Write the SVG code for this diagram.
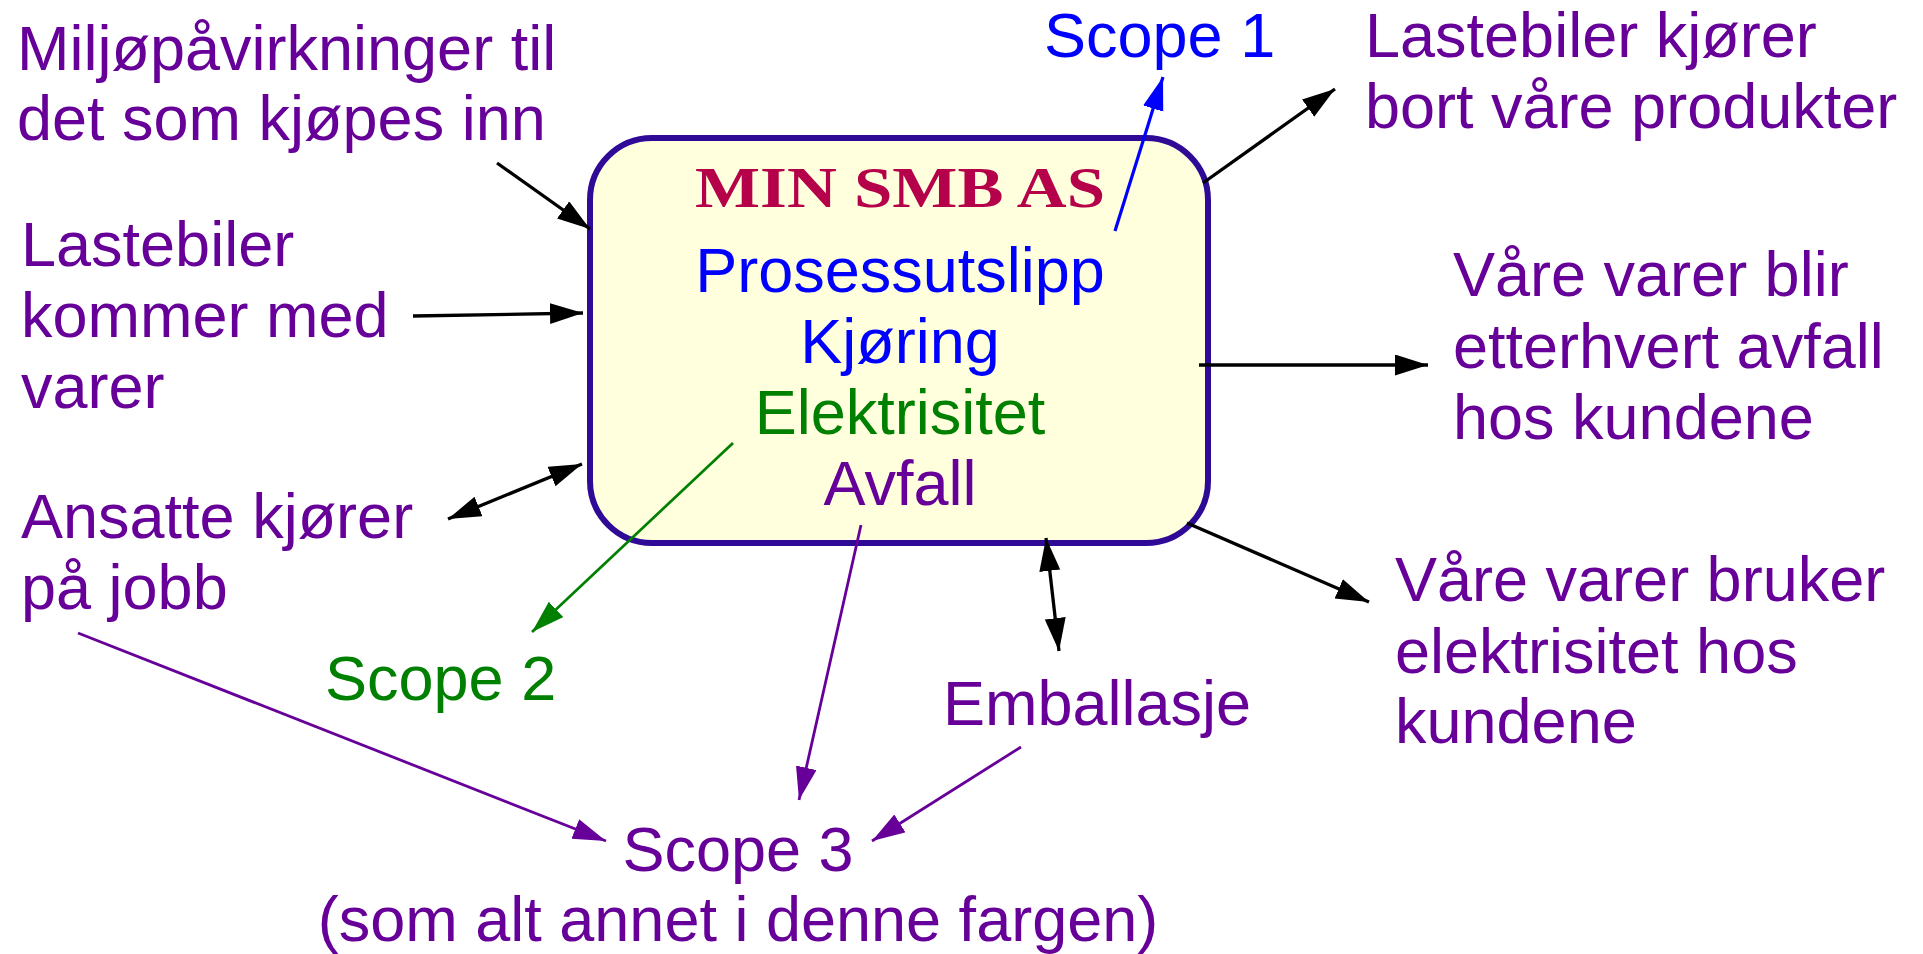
<svg xmlns="http://www.w3.org/2000/svg" width="1923" height="954" viewBox="0 0 1923 954">
<style>
text{font-family:"Liberation Sans",Arial,sans-serif;font-size:63px}
.p{fill:#660099}.b{fill:#0000ff}.g{fill:#008000}
.c{text-anchor:middle}
.title{font-family:"Liberation Serif","Times New Roman",serif;font-weight:bold;font-size:57px;fill:#b5004a}
.k{stroke:#000;stroke-width:3.3;fill:none}
.lb{stroke:#0000ff;stroke-width:3.2;fill:none}
.lg{stroke:#008000;stroke-width:2.7;fill:none}
.lp{stroke:#660099;stroke-width:2.8;fill:none}
</style>
<defs>
<marker id="ak" markerUnits="userSpaceOnUse" markerWidth="34" markerHeight="22" refX="33" refY="10.5" orient="auto-start-reverse"><path d="M0,0 L33,10.5 L0,21 z" fill="#000"/></marker>
<marker id="ab" markerUnits="userSpaceOnUse" markerWidth="34" markerHeight="22" refX="33" refY="10.5" orient="auto"><path d="M0,0 L33,10.5 L0,21 z" fill="#0000ff"/></marker>
<marker id="ag" markerUnits="userSpaceOnUse" markerWidth="34" markerHeight="22" refX="33" refY="10.5" orient="auto"><path d="M0,0 L33,10.5 L0,21 z" fill="#008000"/></marker>
<marker id="ap" markerUnits="userSpaceOnUse" markerWidth="34" markerHeight="22" refX="33" refY="10.5" orient="auto"><path d="M0,0 L33,10.5 L0,21 z" fill="#660099"/></marker>
</defs>
<rect width="1923" height="954" fill="#fff"/>
<g id="company">
<rect x="590" y="138" width="618" height="405" rx="62" ry="62" fill="#ffffdd" stroke="#2e0a96" stroke-width="6"/>
<text class="title c" x="900" y="207" textLength="410" lengthAdjust="spacingAndGlyphs">MIN SMB AS</text>
<text class="b c" x="900" y="292">Prosessutslipp</text>
<text class="b c" x="900" y="363">Kjøring</text>
<text class="g c" x="900" y="434">Elektrisitet</text>
<text class="p c" x="900" y="505">Avfall</text>
</g>
<g id="purchased"><text class="p" x="17" y="70">Miljøpåvirkninger til</text><text class="p" x="17" y="140">det som kjøpes inn</text></g>
<g id="trucks-in"><text class="p" x="21" y="266">Lastebiler</text><text class="p" x="21" y="337">kommer med</text><text class="p" x="21" y="408">varer</text></g>
<g id="commute"><text class="p" x="21" y="538">Ansatte kjører</text><text class="p" x="21" y="609">på jobb</text></g>
<g id="scope2"><text class="g" x="325" y="700">Scope 2</text></g>
<g id="scope3"><text class="p c" x="738" y="871">Scope 3</text><text class="p c" x="738" y="941">(som alt annet i denne fargen)</text></g>
<g id="packaging"><text class="p" x="943" y="725">Emballasje</text></g>
<g id="scope1"><text class="b" x="1044" y="57">Scope 1</text></g>
<g id="trucks-out"><text class="p" x="1365" y="57">Lastebiler kjører</text><text class="p" x="1365" y="128">bort våre produkter</text></g>
<g id="waste"><text class="p" x="1453" y="296">Våre varer blir</text><text class="p" x="1453" y="368">etterhvert avfall</text><text class="p" x="1453" y="439">hos kundene</text></g>
<g id="use"><text class="p" x="1395" y="601">Våre varer bruker</text><text class="p" x="1395" y="673">elektrisitet hos</text><text class="p" x="1395" y="743">kundene</text></g>
<g id="connectors">
<line class="k" x1="497" y1="163" x2="590" y2="229" marker-end="url(#ak)"/>
<line class="k" x1="413" y1="316" x2="583" y2="313" marker-end="url(#ak)"/>
<line class="k" x1="448" y1="519" x2="582" y2="464" marker-start="url(#ak)" marker-end="url(#ak)"/>
<line class="lb" x1="1115" y1="231" x2="1163" y2="77" marker-end="url(#ab)"/>
<line class="k" x1="1203" y1="183" x2="1335" y2="89" marker-end="url(#ak)"/>
<line class="k" x1="1199" y1="365" x2="1428" y2="365" marker-end="url(#ak)"/>
<line class="k" x1="1187" y1="523" x2="1369" y2="602" marker-end="url(#ak)"/>
<line class="k" x1="1046" y1="538" x2="1059" y2="651" marker-start="url(#ak)" marker-end="url(#ak)"/>
<line class="lg" x1="733" y1="443" x2="532" y2="632" marker-end="url(#ag)"/>
<line class="lp" x1="861" y1="525" x2="799" y2="800" marker-end="url(#ap)"/>
<line class="lp" x1="78" y1="633" x2="606" y2="841" marker-end="url(#ap)"/>
<line class="lp" x1="1021" y1="747" x2="872" y2="841" marker-end="url(#ap)"/>
</g>
</svg>
